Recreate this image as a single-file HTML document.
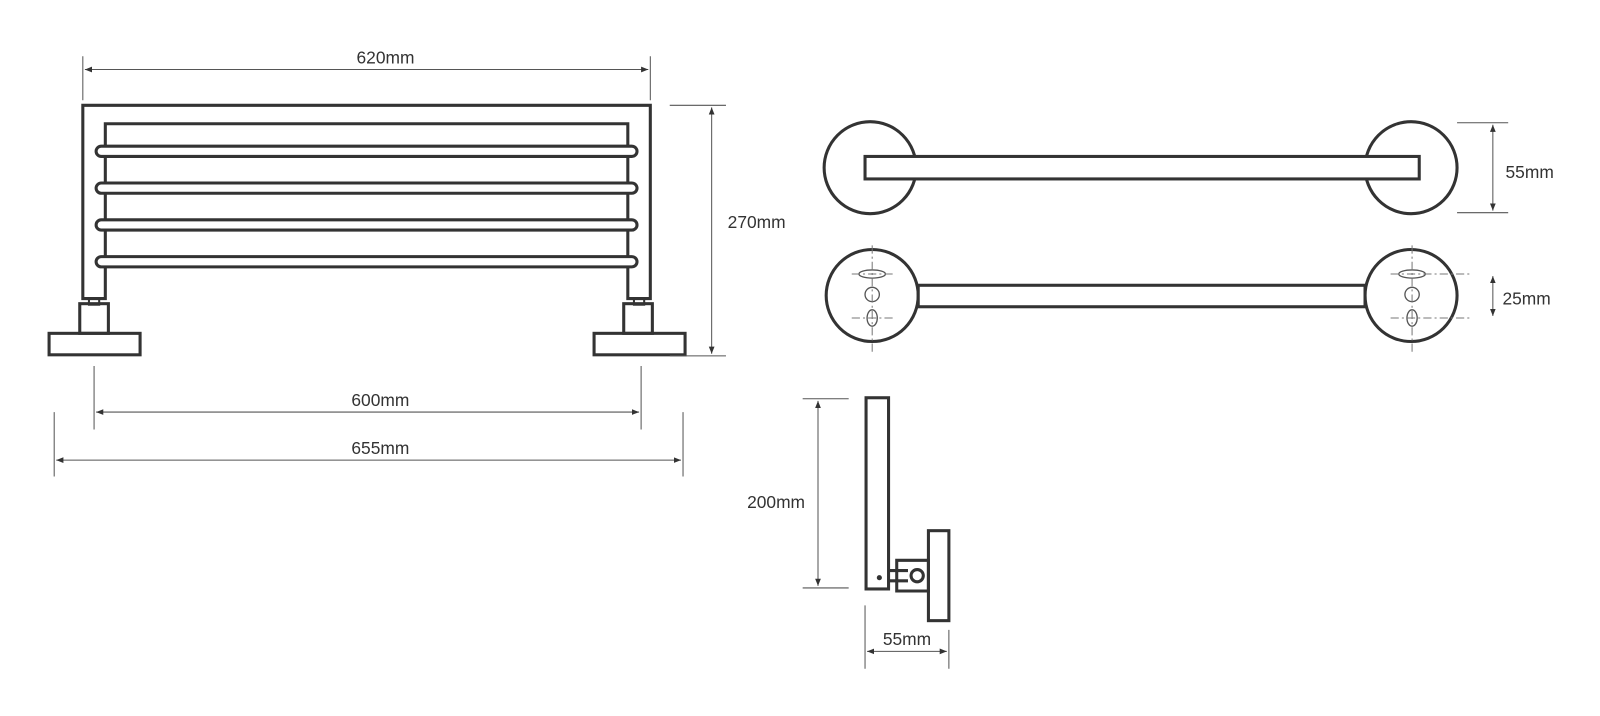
<!DOCTYPE html>
<html><head><style>html,body{margin:0;padding:0;background:#fff}svg{display:block}</style></head>
<body>
<svg width="1600" height="716" viewBox="0 0 1600 716" xmlns="http://www.w3.org/2000/svg" font-family="'Liberation Sans', 'DejaVu Sans', sans-serif">
<defs>
<marker id="a" viewBox="0 0 10 10" refX="10" refY="5" markerWidth="7" markerHeight="7" orient="auto-start-reverse"><path d="M0,1 L10,5 L0,9 z" fill="#333"/></marker>
</defs>
<g transform="scale(1.0225)">
<g fill="none" stroke="#333" stroke-width="3">
<path d="M81,292 V103 H636 V292 H614 V121 H103 V292 Z"/>
<g fill="#fff">
<path d="M99,143 H618 A5,5 0 0 1 618,153 H99 A5,5 0 0 1 99,143 Z"/>
<path d="M99,179 H618 A5,5 0 0 1 618,189 H99 A5,5 0 0 1 99,179 Z"/>
<path d="M99,215 H618 A5,5 0 0 1 618,225 H99 A5,5 0 0 1 99,215 Z"/>
<path d="M99,251 H618 A5,5 0 0 1 618,261 H99 A5,5 0 0 1 99,251 Z"/>
</g>
<rect x="87" y="292" width="10" height="6" stroke-width="2"/>
<rect x="78" y="297" width="28" height="29"/>
<rect x="48" y="326" width="89" height="21"/>
<rect x="620" y="292" width="10" height="6" stroke-width="2"/>
<rect x="610" y="297" width="28" height="29"/>
<rect x="581" y="326" width="89" height="21"/>
<circle cx="851" cy="164" r="45"/>
<circle cx="1380" cy="164" r="45"/>
<rect x="846" y="153" width="542" height="22" fill="#fff"/>
<circle cx="853" cy="289" r="45"/>
<circle cx="1380" cy="289" r="45"/>
<rect x="898" y="279" width="437" height="21" fill="#fff"/>
<rect x="847" y="389" width="22" height="187"/>
<rect x="908" y="519" width="20" height="88"/>
<path d="M877,548 H908 V578 H877 Z"/>
<path d="M869,558 H888 M869,568 H888"/>
<circle cx="897" cy="563" r="6"/>
</g>
<circle cx="860" cy="565" r="2.5" fill="#333"/>
<g fill="none" stroke="#555" stroke-width="1.3">
<ellipse cx="853" cy="268" rx="13" ry="4"/><circle cx="853" cy="288" r="7"/><ellipse cx="853" cy="311" rx="5" ry="8"/>
<ellipse cx="1381" cy="268" rx="13" ry="4"/><circle cx="1381" cy="288" r="7"/><ellipse cx="1381" cy="311" rx="5" ry="8"/>
</g>
<g stroke="#777" stroke-width="1" stroke-dasharray="8,3,2,3" fill="none">
<path d="M853,240 V347 M833,268 H875 M833,311 H875"/>
<path d="M1381,240 V347 M1360,268 H1440 M1360,311 H1440"/>
</g>
<g stroke="#555" stroke-width="1" fill="none">
<path d="M81,55 V98 M636,55 V98"/>
<path d="M83,68 H634" marker-start="url(#a)" marker-end="url(#a)"/>
<path d="M655,103 H710 M655,348 H710"/>
<path d="M696,105 V346" marker-start="url(#a)" marker-end="url(#a)"/>
<path d="M92,358 V420 M627,358 V420"/>
<path d="M94,403 H625" marker-start="url(#a)" marker-end="url(#a)"/>
<path d="M53,403 V466 M668,403 V466"/>
<path d="M55,450 H666" marker-start="url(#a)" marker-end="url(#a)"/>
<path d="M1425,120 H1475 M1425,208 H1475"/>
<path d="M1460,122 V206" marker-start="url(#a)" marker-end="url(#a)"/>
<path d="M1460,270 V309" marker-start="url(#a)" marker-end="url(#a)"/>
<path d="M785,390 H830 M785,575 H830"/>
<path d="M800,392 V573" marker-start="url(#a)" marker-end="url(#a)"/>
<path d="M846,592 V654 M928,616 V654"/>
<path d="M848,637 H926" marker-start="url(#a)" marker-end="url(#a)"/>
</g>
<g fill="#333" font-size="17">
<text x="377" y="62" text-anchor="middle">620mm</text>
<text x="740" y="223" text-anchor="middle">270mm</text>
<text x="372" y="397" text-anchor="middle">600mm</text>
<text x="372" y="444" text-anchor="middle">655mm</text>
<text x="1496" y="174" text-anchor="middle">55mm</text>
<text x="1493" y="298" text-anchor="middle">25mm</text>
<text x="759" y="497" text-anchor="middle">200mm</text>
<text x="887" y="631" text-anchor="middle">55mm</text>
</g>
</g>
</svg>
</body></html>
